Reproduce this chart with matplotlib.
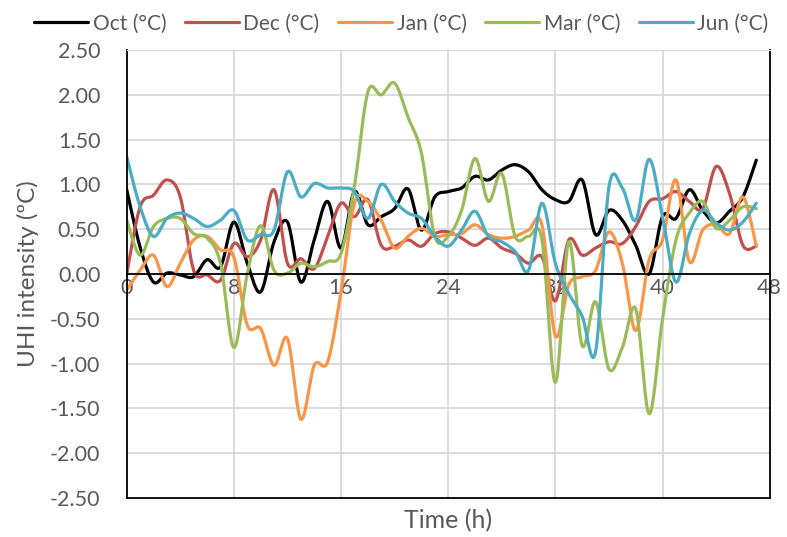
import matplotlib
matplotlib.use("Agg")
import matplotlib.pyplot as plt
import numpy as np

plt.rcParams['font.family'] = ['Lato', 'DejaVu Sans']

# hourly UHI intensity
hours = list(range(48))
oct_c = [0.94, 0.30, -0.09, 0.01, -0.01, -0.03, 0.16, 0.08, 0.58, 0.12, -0.20, 0.36, 0.58, -0.09,
         0.38, 0.81, 0.29, 0.92, 0.55, 0.64, 0.73, 0.95, 0.49, 0.86, 0.92, 0.96, 1.09, 1.05,
         1.16, 1.22, 1.14, 0.94, 0.83, 0.81, 1.05, 0.44, 0.71, 0.60, 0.32, 0.00, 0.64, 0.62,
         0.94, 0.71, 0.57, 0.70, 0.86, 1.27]
dec_c = [0.00, 0.75, 0.88, 1.05, 0.86, 0.04, -0.01, -0.07, 0.34, 0.19, 0.38, 0.94, 0.12, 0.17,
         0.06, 0.42, 0.79, 0.64, 0.83, 0.32, 0.31, 0.38, 0.31, 0.45, 0.47, 0.40, 0.32, 0.40,
         0.29, 0.23, 0.12, 0.19, -0.30, 0.38, 0.21, 0.29, 0.36, 0.34, 0.53, 0.81, 0.84, 0.92,
         0.81, 0.73, 1.20, 0.90, 0.32, 0.31]
jan_c = [-0.18, 0.04, 0.21, -0.14, 0.12, 0.38, 0.42, 0.27, 0.19, -0.57, -0.61, -1.02, -0.72,
         -1.62, -1.02, -0.98, -0.20, 0.79, 0.81, 0.60, 0.29, 0.42, 0.51, 0.42, 0.44, 0.45,
         0.55, 0.44, 0.40, 0.42, 0.49, 0.55, -0.69, -0.12, -0.03, 0.04, 0.47, 0.12, -0.63,
         0.16, 0.38, 1.05, 0.14, 0.49, 0.55, 0.45, 0.86, 0.31]
mar_c = [0.60, 0.21, 0.53, 0.62, 0.62, 0.45, 0.40, 0.12, -0.82, 0.00, 0.54, 0.04, 0.01, 0.12,
         0.08, 0.14, 0.23, 0.98, 2.03, 2.00, 2.13, 1.75, 1.35, 0.42, 0.42, 0.71, 1.29, 0.81,
         1.12, 0.42, 0.42, 0.38, -1.21, 0.36, -0.80, -0.31, -1.06, -0.82, -0.39, -1.56, -0.50,
         0.38, 0.68, 0.81, 0.51, 0.60, 0.75, 0.73]
jun_c = [1.31, 0.75, 0.42, 0.62, 0.68, 0.62, 0.53, 0.60, 0.71, 0.38, 0.44, 0.49, 1.14, 0.86,
         1.01, 0.96, 0.96, 0.92, 0.62, 1.00, 0.81, 0.68, 0.62, 0.42, 0.31, 0.49, 0.70, 0.42,
         0.36, 0.25, 0.04, 0.79, 0.12, -0.22, -0.47, -0.87, 0.97, 0.96, 0.60, 1.28, 0.64,
         -0.09, 0.45, 0.71, 0.57, 0.49, 0.58, 0.79]

series = [("Oct (°C)", oct_c, "black"),
          ("Dec (°C)", dec_c, "#C0504D"),
          ("Jan (°C)", jan_c, "#F79646"),
          ("Mar (°C)", mar_c, "#9BBB59"),
          ("Jun (°C)", jun_c, "#4BACC6")]


def smooth(x, y, n=20):
    # Excel-like smoothed line (Catmull-Rom bezier through the points)
    x = np.asarray(x, float)
    y = np.asarray(y, float)
    px = np.concatenate([[x[0]], x, [x[-1]]])
    py = np.concatenate([[y[0]], y, [y[-1]]])
    t = np.linspace(0, 1, n, endpoint=False)
    xs, ys = [], []
    for i in range(1, len(px) - 2):
        p0 = np.array([px[i], py[i]])
        p3 = np.array([px[i + 1], py[i + 1]])
        c1 = p0 + (p3 - np.array([px[i - 1], py[i - 1]])) / 6
        c2 = p3 - (np.array([px[i + 2], py[i + 2]]) - p0) / 6
        pts = ((1 - t) ** 3)[:, None] * p0 + (3 * (1 - t) ** 2 * t)[:, None] * c1 \
            + (3 * (1 - t) * t ** 2)[:, None] * c2 + (t ** 3)[:, None] * p3
        xs.append(pts[:, 0])
        ys.append(pts[:, 1])
    xs.append([x[-1]])
    ys.append([y[-1]])
    return np.concatenate(xs), np.concatenate(ys)


fig = plt.figure(figsize=(7.87, 5.37), dpi=100)
ax = fig.add_axes([0.161, 0.0726, 0.817, 0.8343])

for label, vals, col in series:
    sx, sy = smooth(hours, vals)
    ax.plot(sx, sy, color=col, lw=2.3, label=label, solid_capstyle='round')

ax.set_xlim(0, 48)
ax.set_ylim(-2.5, 2.5)
yt = np.arange(-2.5, 2.51, 0.5)
ax.set_yticks(yt)
ax.set_yticklabels([f"{v:.2f}" for v in yt])
ax.set_xticks(range(0, 49, 8))
ax.grid(True, color="#D9D9D9", lw=1.3)
ax.set_axisbelow(True)

ax.spines['bottom'].set_position(('data', 0))
ax.spines['bottom'].set_color('black')
ax.spines['bottom'].set_linewidth(1.3)
ax.spines['left'].set_linewidth(1.3)
ax.spines['right'].set_linewidth(1.3)
ax.spines['top'].set_color('#D9D9D9')
ax.axhline(-2.5, color='black', lw=1.3, clip_on=False, zorder=3)

ax.tick_params(axis='y', length=0, pad=19, labelsize=15.5, labelcolor='#595959')
ax.tick_params(axis='x', length=0, pad=3, labelsize=15.5, labelcolor='#595959')

ax.set_ylabel("UHI intensity (ºC)", fontsize=17.5, color='#595959', labelpad=8)
ax.text(0.5, -0.05, "Time (h)", transform=ax.transAxes, ha='center', va='center',
        fontsize=18, color='#595959')

fig.legend(loc='upper center', bbox_to_anchor=(0.51, 1.01), ncol=5, frameon=False,
           fontsize=15, handlelength=2.6, columnspacing=0.9, handletextpad=0.2,
           labelcolor='#595959')

fig.savefig("out.png", dpi=100)
